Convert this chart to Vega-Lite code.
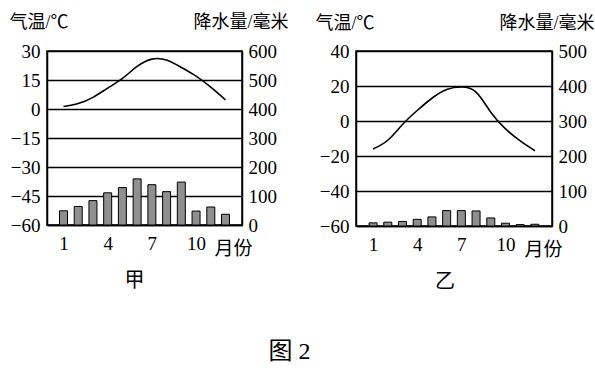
{
  "$schema": "https://vega.github.io/schema/vega-lite/v6.json",
  "background": "white",
  "padding": {"left": 8, "top": 12, "right": 5, "bottom": 5},
  "datasets": {
    "jia": [
      {"month": 1, "temp": 1.3, "precip": 49},
      {"month": 2, "temp": 2.8, "precip": 64},
      {"month": 3, "temp": 6, "precip": 84},
      {"month": 4, "temp": 10.8, "precip": 111},
      {"month": 5, "temp": 15.8, "precip": 129},
      {"month": 6, "temp": 22, "precip": 159},
      {"month": 7, "temp": 25.8, "precip": 139},
      {"month": 8, "temp": 25.3, "precip": 115},
      {"month": 9, "temp": 21.5, "precip": 148},
      {"month": 10, "temp": 17, "precip": 48},
      {"month": 11, "temp": 11.3, "precip": 62},
      {"month": 12, "temp": 4.7, "precip": 37}
    ],
    "yi": [
      {"month": 1, "temp": -16, "precip": 9},
      {"month": 2, "temp": -11, "precip": 11},
      {"month": 3, "temp": -2, "precip": 13},
      {"month": 4, "temp": 6, "precip": 19},
      {"month": 5, "temp": 13, "precip": 26},
      {"month": 6, "temp": 18, "precip": 44},
      {"month": 7, "temp": 19.4, "precip": 44},
      {"month": 8, "temp": 16.5, "precip": 43},
      {"month": 9, "temp": 5, "precip": 23},
      {"month": 10, "temp": -4.5, "precip": 8},
      {"month": 11, "temp": -11.4, "precip": 4},
      {"month": 12, "temp": -17, "precip": 5}
    ]
  },
  "title": {"text": "图 2", "orient": "bottom", "fontSize": 24, "fontWeight": "normal", "offset": 47, "anchor": "middle", "dx": -12},
  "spacing": 114,
  "bounds": "flush",
  "hconcat": [
    {
      "width": 195,
      "height": 174,
      "data": {"name": "jia"},
      "title": {"text": "甲", "orient": "bottom", "offset": 13, "dx": -10, "fontSize": 20, "fontWeight": "normal"},
      "layer": [
        {
          "mark": {"type": "bar", "size": 8, "fill": "#8f8f8f", "stroke": "black", "strokeWidth": 1},
          "encoding": {
            "x": {"field": "month", "type": "quantitative", "scale": {"domain": [0.22, 12.78], "nice": false, "zero": false},
              "axis": {"values": [1, 4, 7, 10], "grid": false, "ticks": false, "labelPadding": 9, "title": "月份", "titleAngle": 0, "titleAlign": "left", "titleX": 167, "titleY": 29, "titleBaseline": "alphabetic"}},
            "y": {"field": "precip", "type": "quantitative", "scale": {"domain": [0, 600], "nice": false},
              "axis": {"orient": "right", "values": [0, 100, 200, 300, 400, 500, 600], "grid": false, "ticks": false, "labelPadding": 6, "title": "降水量/毫米", "titleFontSize": 18, "titleAngle": 0, "titleAlign": "right", "titleX": 46, "titleY": -24, "titleBaseline": "alphabetic"}}
          }
        },
        {
          "mark": {"type": "line", "interpolate": "natural", "stroke": "black", "strokeWidth": 1.6},
          "encoding": {
            "x": {"field": "month", "type": "quantitative"},
            "y": {"field": "temp", "type": "quantitative", "scale": {"domain": [-60, 30], "nice": false, "zero": false},
              "axis": {"orient": "left", "values": [-60, -45, -30, -15, 0, 15, 30], "grid": true, "ticks": false, "labelPadding": 7, "title": "气温/℃", "titleFontSize": 18, "titleAngle": 0, "titleAlign": "left", "titleX": -38, "titleY": -24, "titleBaseline": "alphabetic"}}
          }
        }
      ],
      "resolve": {"scale": {"y": "independent"}}
    },
    {
      "width": 196,
      "height": 175,
      "data": {"name": "yi"},
      "title": {"text": "乙", "orient": "bottom", "offset": 13, "dx": -9, "fontSize": 20, "fontWeight": "normal"},
      "layer": [
        {
          "mark": {"type": "bar", "size": 8, "fill": "#8f8f8f", "stroke": "black", "strokeWidth": 1},
          "encoding": {
            "x": {"field": "month", "type": "quantitative", "scale": {"domain": [0.18, 12.82], "nice": false, "zero": false},
              "axis": {"values": [1, 4, 7, 10], "grid": false, "ticks": false, "labelPadding": 9, "title": "月份", "titleAngle": 0, "titleAlign": "left", "titleX": 168, "titleY": 29, "titleBaseline": "alphabetic"}},
            "y": {"field": "precip", "type": "quantitative", "scale": {"domain": [0, 500], "nice": false},
              "axis": {"orient": "right", "values": [0, 100, 200, 300, 400, 500], "grid": false, "ticks": false, "labelPadding": 6, "title": "降水量/毫米", "titleFontSize": 18, "titleAngle": 0, "titleAlign": "right", "titleX": 42, "titleY": -23, "titleBaseline": "alphabetic"}}
          }
        },
        {
          "mark": {"type": "line", "interpolate": "natural", "stroke": "black", "strokeWidth": 1.6},
          "encoding": {
            "x": {"field": "month", "type": "quantitative"},
            "y": {"field": "temp", "type": "quantitative", "scale": {"domain": [-60, 40], "nice": false, "zero": false},
              "axis": {"orient": "left", "values": [-60, -40, -20, 0, 20, 40], "grid": true, "ticks": false, "labelPadding": 7, "title": "气温/℃", "titleFontSize": 18, "titleAngle": 0, "titleAlign": "left", "titleX": -41, "titleY": -23, "titleBaseline": "alphabetic"}}
          }
        }
      ],
      "resolve": {"scale": {"y": "independent"}}
    }
  ],
  "config": {
    "view": {"stroke": "black", "strokeWidth": 1.5},
    "font": "serif",
    "title": {"font": "'Liberation Serif', 'Noto Sans CJK SC', serif", "color": "black"},
    "axis": {
      "labelFont": "'Liberation Serif', serif",
      "labelFontSize": 19,
      "labelColor": "black",
      "titleFont": "'Liberation Serif', 'Noto Sans CJK SC', serif",
      "titleFontSize": 19,
      "titleFontWeight": "normal",
      "titleColor": "black",
      "domainColor": "black",
      "domainWidth": 1.5,
      "tickColor": "black",
      "gridColor": "black",
      "gridWidth": 1.5,
      "gridOpacity": 1
    }
  }
}
